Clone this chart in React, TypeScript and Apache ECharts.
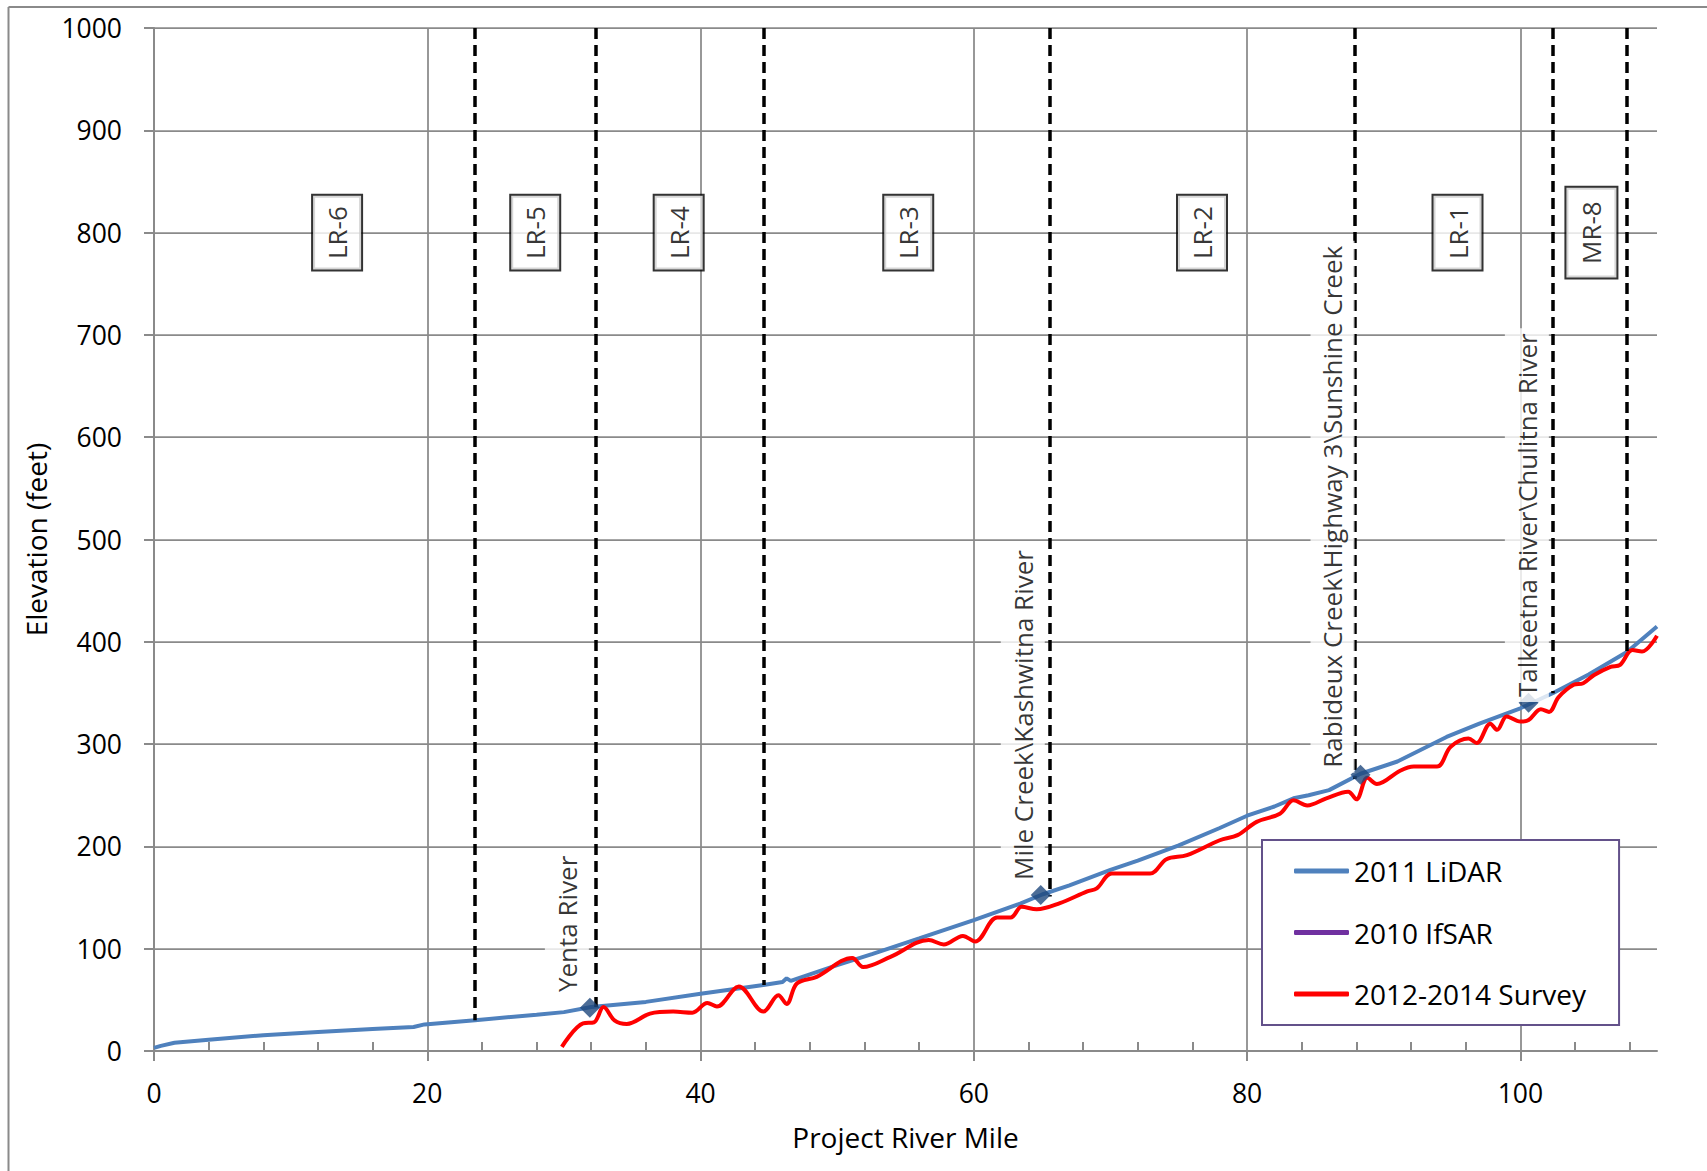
import React, { useEffect, useRef } from 'react';
import * as echarts from 'echarts';

// ---- data ----
const lidarMiles = [0, 0.5, 1.5, 4, 8, 12, 16, 19, 19.8, 23.5, 28, 30, 32, 36, 40, 44.6, 46, 46.3, 46.6, 48, 50, 52.6, 56, 60, 63.4, 65, 67, 70, 72, 75, 78, 80, 82, 83.4, 84.5, 86, 88.3, 91, 94.6, 97, 100, 102.4, 105, 107.8, 110];
const lidarElev = [3, 5, 8, 11, 15.5, 18.5, 21.5, 23.5, 26, 30, 35.5, 38, 43, 48, 56, 64.5, 67.5, 71, 68.5, 75, 84, 95, 110, 128, 144, 153, 162, 177, 186, 201, 218, 230, 239, 247, 250, 255, 271, 283, 307, 320, 335, 350, 368, 390, 415];

const ifsarMiles: number[] = [];
const ifsarElev: number[] = [];

const surveyMiles = [29.85, 31.4, 32.2, 32.9, 33.7, 34.6, 36.3, 38, 39.4, 40.5, 41.2, 42.8, 44.6, 45.7, 46.3, 47.05, 48.5, 51.1, 51.9, 53.9, 56.7, 57.8, 59.2, 60.1, 61.7, 62.7, 63.5, 64.6, 66.3, 68.3, 69, 70.1, 72.9, 74.1, 75.6, 78, 79.3, 80.7, 82.4, 83.4, 84.4, 85.8, 87.4, 88.0, 88.8, 89.5, 91.2, 92.2, 93.9, 94.9, 96.2, 96.8, 97.8, 98.3, 99.0, 100, 100.6, 101.5, 102.1, 102.8, 103.9, 104.6, 105.4, 106.6, 107.3, 108.2, 108.9, 110];
const surveyElev = [4, 27, 28, 43, 30, 26.5, 36.5, 38.5, 37.5, 47, 43.5, 63, 38.5, 54.5, 46, 66, 72.5, 91, 82, 92, 108.5, 104, 112.5, 107, 130.5, 130.5, 141, 138.5, 144.5, 156, 159, 173.5, 173.5, 187.5, 191.5, 206, 211, 224, 232, 245, 240, 247, 253.5, 246, 267, 261, 274, 278, 278, 297.5, 305.5, 301, 320, 314, 327, 322, 323.5, 334, 331.5, 346, 358, 359.5, 367.5, 375.5, 377.5, 392, 390.5, 406];

const reachNames = ['LR-6', 'LR-5', 'LR-4', 'LR-3', 'LR-2', 'LR-1', 'MR-8'];
const reachMiles = [13.4, 27.9, 38.4, 55.2, 76.7, 95.4, 105.2];
const reachLabelElev = 800;

const boundaryMiles = [23.5, 32.3, 44.6, 65.55, 87.9, 102.4, 107.8];
const boundaryBottom = [30, 43, 64.5, 151, 266, 349.6, 390];
const boundaryTop = 1000;

const tribNames = ['Yenta River', 'Mile Creek\\Kashwitna River', 'Rabideux Creek\\Highway 3\\Sunshine Creek', 'Talkeetna River\\Chulitna River'];
const tribMiles = [31.9, 64.9, 88.3, 100.6];
const tribElev = [42.3, 152.5, 270, 340.5];

const xMajorTicks = [0, 20, 40, 60, 80, 100];
const xMinorTicks = [4, 8, 12, 16, 24, 28, 32, 36, 44, 48, 52, 56, 64, 68, 72, 76, 84, 88, 92, 96, 104, 108];
const xMin = 0, xMax = 110;
const yMin = 0, yMax = 1000, yStep = 100;

// ---- styles ----
const FONT = '"Open Sans", "Noto Sans", sans-serif';
const GRID = '#8a8a8a';
const tribLabelPos = [[-13, -0.7], [-8, 0], [-18, 8], [8.3, 9.3]];

export default function App() {
  const ref = useRef<HTMLDivElement>(null);
  useEffect(() => {
    if (!ref.current) return;
    const chart = echarts.init(ref.current, undefined, { renderer: 'svg' });
    const zip = (a: number[], b: number[]) => a.map((v, i) => [v, b[i]]);
    const option: any = {
      animation: false,
      backgroundColor: '#ffffff',
      textStyle: { fontFamily: FONT },
      grid: { left: 154, top: 28, width: 1503, height: 1023, containLabel: false, outerBoundsMode: 'none' },
      legend: {
        show: true,
        orient: 'vertical',
        left: 1262,
        top: 840,
        data: ['2011 LiDAR', '2010 IfSAR', '2012-2014 Survey'],
        icon: 'roundRect',
        itemWidth: 55,
        itemHeight: 5,
        itemGap: 25.5,
        padding: [13, 33, 13, 32],
        backgroundColor: '#ffffff',
        borderColor: '#63518a',
        borderWidth: 2,
        borderRadius: 0,
        selectedMode: false,
        textStyle: { fontFamily: FONT, fontSize: 28, color: '#000', lineHeight: 36 },
      },
      xAxis: [
        {
          type: 'value', min: xMin, max: xMax, interval: 20, position: 'bottom',
          name: 'Project River Mile', nameLocation: 'middle', nameGap: 72,
          nameTextStyle: { fontFamily: FONT, fontSize: 28, color: '#000' },
          axisLine: { show: true, onZero: false, lineStyle: { color: GRID, width: 2 } },
          axisTick: { show: true, inside: false, length: 10, customValues: xMajorTicks, lineStyle: { color: GRID, width: 2 } },
          axisLabel: { show: true, margin: 28, fontFamily: FONT, fontSize: 26.5, color: '#000', customValues: xMajorTicks, formatter: (v: number) => (v > 105 ? '' : String(v)) },
          splitLine: { show: true, lineStyle: { color: [GRID, GRID, GRID, GRID, GRID, GRID, 'rgba(0,0,0,0)'], width: 1.75 } },
        },
        {
          type: 'value', min: xMin, max: xMax, interval: 4, position: 'bottom', gridIndex: 0,
          axisLine: { show: false },
          axisTick: { show: true, inside: true, length: 9, customValues: xMinorTicks, lineStyle: { color: GRID, width: 2 } },
          axisLabel: { show: false },
          splitLine: { show: false },
        },
      ],
      yAxis: {
        type: 'value', min: yMin, max: yMax, interval: yStep,
        name: 'Elevation (feet)', nameLocation: 'middle', nameGap: 102, nameRotate: 90,
        nameTextStyle: { fontFamily: FONT, fontSize: 28, color: '#000' },
        axisLine: { show: true, onZero: false, lineStyle: { color: GRID, width: 2 } },
        axisTick: { show: true, inside: false, length: 10, lineStyle: { color: GRID, width: 2 } },
        axisLabel: { show: true, margin: 32, fontFamily: FONT, fontSize: 26.5, color: '#000', formatter: (v: number) => String(v) },
        splitLine: { show: true, lineStyle: { color: GRID, width: 1.75 } },
      },
      graphic: [
        { type: 'line', shape: { x1: 8.5, y1: 7, x2: 8.5, y2: 1171 }, style: { stroke: GRID, lineWidth: 2 }, silent: true },
        { type: 'line', shape: { x1: 8.5, y1: 7, x2: 1707, y2: 7 }, style: { stroke: GRID, lineWidth: 2 }, silent: true },
      ],
      series: [
        {
          name: '2011 LiDAR', type: 'line', xAxisIndex: 0, data: zip(lidarMiles, lidarElev),
          showSymbol: false, symbol: 'none', smooth: false, z: 3,
          lineStyle: { color: '#4f81bd', width: 4 }, itemStyle: { color: '#4f81bd' },
          markLine: {
            silent: true, symbol: ['none', 'none'], animation: false,
            label: { show: false },
            lineStyle: { color: '#000', width: 3.5, type: [11, 6] },
            emphasis: { disabled: true },
            data: boundaryMiles.map((m, i) => [{ coord: [m, boundaryTop] }, { coord: [m, boundaryBottom[i]] }]),
          },
        },
        {
          name: '2010 IfSAR', type: 'line', xAxisIndex: 0, data: zip(ifsarMiles, ifsarElev),
          showSymbol: false, symbol: 'none',
          lineStyle: { color: '#7030a0', width: 4 }, itemStyle: { color: '#7030a0' },
        },
        {
          name: '2012-2014 Survey', type: 'line', xAxisIndex: 0, data: zip(surveyMiles, surveyElev),
          showSymbol: false, symbol: 'none', smooth: 0.35, z: 4,
          lineStyle: { color: '#ff0000', width: 4 }, itemStyle: { color: '#ff0000' },
        },
        {
          name: 'Tributaries', type: 'scatter', xAxisIndex: 0, z: 6,
          symbol: 'diamond', symbolSize: 20,
          itemStyle: { color: '#1f497d' },
          data: tribMiles.map((m, i) => ({
            value: [m, tribElev[i]],
            label: {
              show: true, formatter: tribNames[i], position: tribLabelPos[i], rotate: 90,
              align: 'left', verticalAlign: 'middle',
              fontFamily: FONT, fontSize: 26, lineHeight: 30, color: '#000',
              backgroundColor: '#ffffff', padding: [7, 5],
            },
          })),
        },
        {
          name: 'Reaches', type: 'scatter', xAxisIndex: 0, z: 5,
          symbol: 'rect', symbolSize: 1,
          itemStyle: { color: 'rgba(0,0,0,0)' },
          data: reachMiles.map((m, i) => ({
            value: [m, reachLabelElev],
            label: {
              show: true, formatter: reachNames[i], position: 'inside', rotate: 90,
              align: 'center', verticalAlign: 'middle',
              fontFamily: FONT, fontSize: 26, lineHeight: 30, color: '#000',
              backgroundColor: '#ffffff', borderColor: '#000', borderWidth: 2,
              padding: reachNames[i] === 'MR-8' ? [10, 13.5] : [9, 10.5],
            },
          })),
        },
      ],
    };
    chart.setOption(option);
    return () => chart.dispose();
  }, []);
  return <div ref={ref} style={{ position: 'absolute', left: 0, top: 0, width: 1707, height: 1171 }} />;
}
